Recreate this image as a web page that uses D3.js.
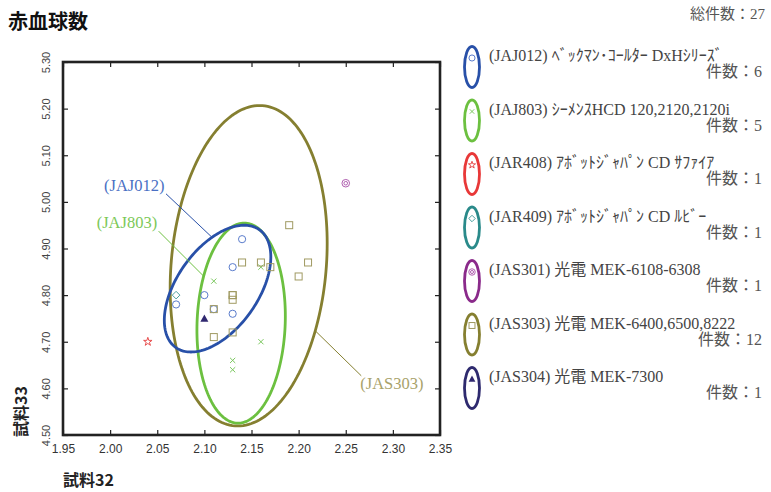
<!DOCTYPE html>
<html>
<head>
<meta charset="utf-8">
<script src="https://cdn.jsdelivr.net/npm/d3@7"></script>
<style>
  body { margin: 0; background: #fff; }
  svg { display: block; }
</style>
</head>
<body>
<svg id="chart" width="771" height="492"></svg>
<script>
// ------------------- Data -------------------
const groupIds = ["JAJ012", "JAJ803", "JAR408", "JAR409", "JAS301", "JAS303", "JAS304"];
const groupNames = [
  "ﾍﾞｯｸﾏﾝ･ｺｰﾙﾀｰ DxHｼﾘｰｽﾞ",
  "ｼｰﾒﾝｽHCD 120,2120,2120i",
  "ｱﾎﾞｯﾄｼﾞｬﾊﾟﾝ CD ｻﾌｧｲｱ",
  "ｱﾎﾞｯﾄｼﾞｬﾊﾟﾝ CD ﾙﾋﾞｰ",
  "光電 MEK-6108-6308",
  "光電 MEK-6400,6500,8222",
  "光電 MEK-7300"
];
const groupCounts = [6, 5, 1, 1, 1, 12, 1];
const totalCount = 27;

// points (試料32 = x, 試料33 = y)
const jaj012X = [2.14, 2.13, 2.10, 2.07, 2.13, 2.11];
const jaj012Y = [4.92, 4.86, 4.80, 4.78, 4.76, 4.77];
const jaj803X = [2.11, 2.16, 2.16, 2.13, 2.13];
const jaj803Y = [4.83, 4.86, 4.70, 4.66, 4.64];
const jar408X = [2.04];
const jar408Y = [4.70];
const jar409X = [2.07];
const jar409Y = [4.80];
const jas301X = [2.25];
const jas301Y = [5.04];
const jas303X = [2.19, 2.14, 2.16, 2.17, 2.20, 2.21, 2.13, 2.13, 2.11, 2.11, 2.13, 2.13];
const jas303Y = [4.95, 4.87, 4.87, 4.86, 4.84, 4.87, 4.80, 4.79, 4.77, 4.71, 4.72, 4.80];
const jas304X = [2.10];
const jas304Y = [4.75];

// ellipses: center, half extents, correlation
const ellGroups = ["JAJ012", "JAJ803", "JAS303"];
const ellCx = [2.114, 2.139, 2.147];
const ellCy = [4.814, 4.740, 4.863];
const ellSx = [0.0565, 0.0469, 0.0833];
const ellSy = [0.136, 0.2145, 0.3436];
const ellR  = [0.50, 0.07, 0.14];
// callout: angle on ellipse (deg)
const calloutT = [96, 148, 328];

const xTicks = [1.95, 2.00, 2.05, 2.10, 2.15, 2.20, 2.25, 2.30, 2.35];
const yTicks = [4.50, 4.60, 4.70, 4.80, 4.90, 5.00, 5.10, 5.20, 5.30];

// ------------------- Setup -------------------
const svg = d3.select("#chart");
const W = 771, H = 492;
const plot = { left: 63, right: 440, top: 62, bottom: 435 };

const x = d3.scaleLinear().domain([1.95, 2.35]).range([plot.left, plot.right]);
const y = d3.scaleLinear().domain([4.5, 5.3]).range([plot.bottom, plot.top]);

const ellColor = {
  JAJ012: "#2850a8", JAJ803: "#6cc040", JAR408: "#e83838", JAR409: "#2a8a8a",
  JAS301: "#8a2a8a", JAS303: "#857f30", JAS304: "#2e2a6e"
};
const markColor = {
  JAJ012: "#5a7ccc", JAJ803: "#7cc860", JAR408: "#e85050", JAR409: "#4aa0a0",
  JAS301: "#b060b0", JAS303: "#a09a62", JAS304: "#302870"
};
const lightColor = { JAJ012: "#4a70c4", JAJ803: "#7cc858", JAS303: "#a8a26a" };

const pointsByGroup = {
  JAJ012: [jaj012X, jaj012Y], JAJ803: [jaj803X, jaj803Y], JAR408: [jar408X, jar408Y],
  JAR409: [jar409X, jar409Y], JAS301: [jas301X, jas301Y], JAS303: [jas303X, jas303Y],
  JAS304: [jas304X, jas304Y]
};

svg.append("rect").attr("width", W).attr("height", H).attr("fill", "#fff");

// ------------------- Markers -------------------
function drawMarker(sel, id, cx, cy, s) {
  const c = markColor[id];
  const g = sel.append("g").attr("transform", `translate(${cx},${cy})`)
    .attr("fill", "none").attr("stroke", c).attr("stroke-width", 1);
  if (id === "JAJ012") {
    g.append("circle").attr("r", 3.6 * s);
  } else if (id === "JAJ803") {
    const a = 2.6 * s;
    g.append("path").attr("d", `M${-a},${-a}L${a},${a}M${-a},${a}L${a},${-a}`);
  } else if (id === "JAR408") {
    g.append("path").attr("d", d3.symbol(d3.symbolStar, 22 * s * s)());
  } else if (id === "JAR409") {
    const a = 3.8 * s;
    g.append("path").attr("d", `M0,${-a}L${a},0L0,${a}L${-a},0Z`);
  } else if (id === "JAS301") {
    g.append("circle").attr("r", 3.8 * s);
    g.append("circle").attr("r", 1.8 * s);
  } else if (id === "JAS303") {
    const a = 3.5 * s;
    g.append("rect").attr("x", -a).attr("y", -a).attr("width", 2 * a).attr("height", 2 * a);
  } else if (id === "JAS304") {
    const a = 4 * s;
    g.append("path").attr("d", `M0,${-a}L${a},${a * 0.8}L${-a},${a * 0.8}Z`)
      .attr("fill", c).attr("stroke", "none");
  }
}

// ------------------- Ellipses -------------------
function ellPoint(i, tDeg) {
  const t = tDeg * Math.PI / 180;
  const phi = Math.acos(ellR[i]);
  return [x(ellCx[i] + ellSx[i] * Math.cos(t)), y(ellCy[i] + ellSy[i] * Math.cos(t - phi))];
}
const line = d3.line().curve(d3.curveLinearClosed);

// draw order: olive, green, blue
[2, 1, 0].forEach(i => {
  const pts = d3.range(0, 360, 2).map(t => ellPoint(i, t));
  svg.append("path")
    .attr("d", line(pts))
    .attr("fill", "none")
    .attr("stroke", ellColor[ellGroups[i]])
    .attr("stroke-width", 2.8);
});

// points
const pg = svg.append("g");
groupIds.forEach(id => {
  const [xs, ys] = pointsByGroup[id];
  xs.forEach((v, k) => drawMarker(pg, id, x(v), y(ys[k]), 1));
});

// callouts
const calloutOffset = [[-46, -43.5], [-45, -45], [46, 45]];
ellGroups.forEach((id, i) => {
  const [ex, ey] = ellPoint(i, calloutT[i]);
  const sx = ex + calloutOffset[i][0], sy = ey + calloutOffset[i][1];
  svg.append("line")
    .attr("x1", sx).attr("y1", sy).attr("x2", ex).attr("y2", ey)
    .attr("stroke", ellColor[id]).attr("stroke-width", 1);
  const left = calloutOffset[i][0] < 0;
  svg.append("text")
    .attr("x", left ? sx - 1.5 : sx - 1)
    .attr("y", left ? sy - 3 : sy + 13)
    .attr("text-anchor", left ? "end" : "start")
    .attr("font-family", "'Liberation Serif', 'Noto Sans CJK JP', serif")
    .attr("font-size", 16.5)
    .attr("fill", lightColor[id])
    .text(`(${id})`);
});

// ------------------- Axes -------------------
const axisFont = "'Liberation Sans', Arial, sans-serif";

const xAxis = svg.append("g")
  .attr("transform", `translate(0,${plot.bottom})`)
  .call(d3.axisBottom(x).tickValues(xTicks).tickSize(-5).tickPadding(9).tickFormat(d3.format(".2f")));
xAxis.select(".domain").remove();
xAxis.selectAll("text").attr("font-family", axisFont).attr("font-size", 12).attr("fill", "#333");

svg.append("g").attr("transform", `translate(0,${plot.top})`)
  .call(d3.axisTop(x).tickValues(xTicks).tickSize(-5).tickFormat(""))
  .select(".domain").remove();

const yAxis = svg.append("g")
  .attr("transform", `translate(${plot.left},0)`)
  .call(d3.axisLeft(y).tickValues(yTicks).tickSize(-5).tickFormat(d3.format(".2f")));
yAxis.select(".domain").remove();
yAxis.selectAll("text")
  .attr("transform", "rotate(-90)")
  .attr("x", 0).attr("y", -13).attr("dy", 0)
  .attr("text-anchor", "middle")
  .attr("font-family", axisFont).attr("font-size", 11).attr("fill", "#444");

svg.append("g").attr("transform", `translate(${plot.right},0)`)
  .call(d3.axisRight(y).tickValues(yTicks).tickSize(-5).tickFormat(""))
  .select(".domain").remove();

svg.selectAll(".tick line").attr("stroke", "#222").attr("stroke-width", 1.2);

// frame
svg.append("rect")
  .attr("x", plot.left).attr("y", plot.top)
  .attr("width", plot.right - plot.left).attr("height", plot.bottom - plot.top)
  .attr("fill", "none").attr("stroke", "#222").attr("stroke-width", 2.6);

// ------------------- Titles -------------------
const jpFont = "'Noto Sans CJK JP', sans-serif";
svg.append("text").attr("x", 8).attr("y", 29)
  .attr("font-family", jpFont).attr("font-size", 20).attr("font-weight", "bold")
  .attr("fill", "#111").text("赤血球数");

svg.append("text").attr("x", 765).attr("y", 19).attr("text-anchor", "end")
  .attr("font-family", "'Liberation Serif', 'Noto Sans CJK JP', serif")
  .attr("font-size", 15).attr("fill", "#555").text(`総件数：${totalCount}`);

svg.append("text").attr("x", 63).attr("y", 486)
  .attr("font-family", jpFont).attr("font-size", 16).attr("font-weight", "bold")
  .attr("fill", "#222").text("試料32");

svg.append("text").attr("transform", `translate(27,437) rotate(-90)`)
  .attr("font-family", jpFont).attr("font-size", 16).attr("font-weight", "bold")
  .attr("fill", "#222").text("試料33");

// ------------------- Legend -------------------
const legendY = d3.scalePoint().domain(groupIds).range([67, 388]);
const legend = svg.append("g");
const legFont = "'Liberation Serif', 'Noto Sans CJK JP', serif";

groupIds.forEach((id, i) => {
  const cy = legendY(id);
  legend.append("ellipse")
    .attr("cx", 472).attr("cy", cy).attr("rx", 7.5).attr("ry", 20.5)
    .attr("fill", "none").attr("stroke", ellColor[id]).attr("stroke-width", 2.8);
  drawMarker(legend, id, 472, cy - 9, 0.85);
  legend.append("text")
    .attr("x", 489).attr("y", cy - 6)
    .attr("font-family", legFont).attr("font-size", 16).attr("fill", "#444")
    .text(`(${id}) ${groupNames[i]}`);
  legend.append("text")
    .attr("x", 762).attr("y", cy + 10).attr("text-anchor", "end")
    .attr("font-family", legFont).attr("font-size", 16).attr("fill", "#555")
    .text(`件数：${groupCounts[i]}`);
});
</script>
</body>
</html>
